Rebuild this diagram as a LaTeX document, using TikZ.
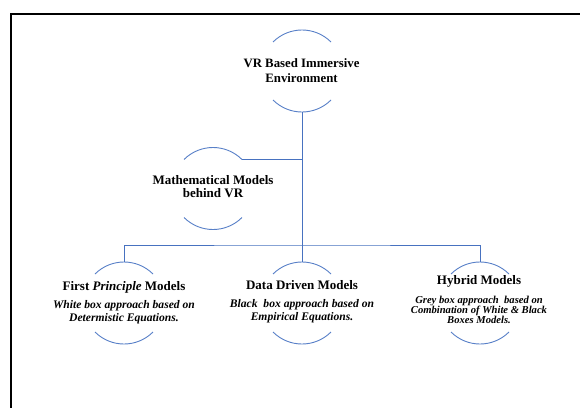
\documentclass[tikz,border=0pt]{standalone}
\usepackage{fontspec}
\setmainfont{Liberation Serif}
\definecolor{linkblue}{RGB}{72,114,192}
\definecolor{arcblue}{RGB}{88,128,200}
\tikzset{
  hub/.style={circle, minimum size=82pt, inner sep=0pt, outer sep=0pt},
  link/.style={draw=linkblue, line width=0.9pt},
  arcline/.style={draw=arcblue, line width=0.9pt},
  frameline/.style={draw=black, line width=2pt},
  headtext/.style={inner sep=0pt, align=center, font=\fontsize{12.8}{15}\selectfont\bfseries},
  titletext/.style={inner sep=0pt, anchor=base, font=\fontsize{13}{15}\selectfont\bfseries},
  desctext/.style={inner sep=0pt, anchor=north, align=center, font=\fontsize{11.6}{12.4}\selectfont\bfseries\itshape},
}
% upper and lower arcs of a hub circle, left and right sides open
\newcommand\halfmoons[1]{%
  \draw[arcline] (#1.45) arc[start angle=45, end angle=135, radius=41pt];
  \draw[arcline] (#1.225) arc[start angle=225, end angle=315, radius=41pt];}
\begin{document}
\begin{tikzpicture}[x=1pt,y=1pt]
\useasboundingbox (0,0) rectangle (580,-407);
\fill[white] (0,0) rectangle (580,-407);

% page frame
\draw[frameline] (11,-408) -- (11,-14) -- (581,-14);

% hubs
\node[hub] (vr)   at (302,-71)    {};
\node[hub] (math) at (213,-188.5) {};
\node[hub] (fp)   at (124,-303)   {};
\node[hub] (dd)   at (302,-303)   {};
\node[hub] (hy)   at (480,-303)   {};
\coordinate (bar) at (302,-245);

\halfmoons{vr}
\halfmoons{math}
\halfmoons{fp}
\halfmoons{dd}
\halfmoons{hy}

% connectors
\draw[link] (vr.south) -- (dd.north);
\draw[link] (math.45) -- (math.45 -| vr.south);
\draw[link] (fp.north) |- (bar) -| (hy.north);

% labels
\node[headtext, anchor=north] (vrT) at (301.5,-58) {VR Based Immersive\\Environment};
\node[headtext, anchor=north, font=\fontsize{13}{13.5}\selectfont\bfseries] (mathT) at (213,-175) {Mathematical Models\\behind VR};

\node[titletext] (fpT) at (124,-290) {First \textit{Principle} Models};
\node[desctext] (fpD) at (124,-300.4) {White box approach based on\\Determistic Equations.};

\node[titletext] (ddT) at (302,-289) {Data Driven Models};
\node[desctext] (ddD) at (302,-299.5) {Black\ \ box approach based on\\Empirical Equations.};

\node[titletext] (hyT) at (479,-284.3) {Hybrid Models};
\node[desctext, font=\fontsize{10.6}{10}\selectfont\bfseries\itshape] (hyD) at (479,-296) {Grey box approach\ \ based on\\Combination of White \& Black\\Boxes Models.};
\end{tikzpicture}
\end{document}
